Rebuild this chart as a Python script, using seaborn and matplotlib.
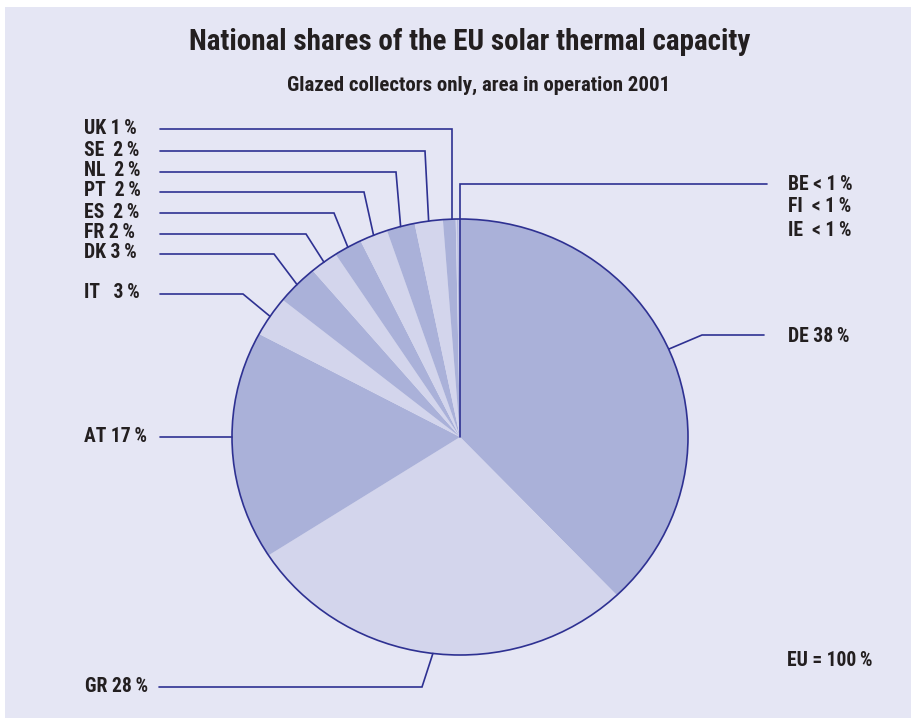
import matplotlib
matplotlib.use("Agg")
import matplotlib.pyplot as plt
import seaborn as sns
import numpy as np
from matplotlib import font_manager
from matplotlib.patches import Rectangle, Ellipse

# ---------------- data ----------------
countries = ["DE", "GR", "AT", "IT", "DK", "FR", "ES", "PT", "NL", "SE", "UK", "BE", "FI", "IE"]
shares = [38, 28, 17, 3, 3, 2, 2, 2, 2, 2, 0.9, 0.1, 0.1, 0.1]
label_texts = ["DE 38\u2009%", "GR 28\u2009%", "AT 17\u2009%", "IT   3\u2009%", "DK 3\u2009%",
               "FR 2\u2009%", "ES  2\u2009%", "PT  2\u2009%", "NL  2\u2009%", "SE  2\u2009%",
               "UK 1\u2009%", "BE < 1\u2009%", "FI  < 1\u2009%", "IE  < 1\u2009%"]
title = "National shares of the EU solar thermal capacity"
subtitle = "Glazed collectors only, area in operation 2001"
total_text = "EU = 100\u2009%"

# ---------------- style ----------------
sns.set_theme(style="white")
names = {f.name for f in font_manager.fontManager.ttflist}
fam = "DejaVu Sans"
for cand in ["Roboto Condensed", "Archivo Narrow", "PT Sans Narrow", "Liberation Sans Narrow",
             "Pragati Narrow", "Open Sans Condensed"]:
    if cand in names:
        fam = cand
        break
plt.rcParams["font.family"] = [fam, "DejaVu Sans"]

BG = "#e5e6f4"
DARK = "#aab1d9"
LIGHT = "#d3d5ec"
NAVY = "#2e3192"
TXT = "#231f20"

W, H = 912, 718
fig = plt.figure(figsize=(W / 100, H / 100), dpi=100)
fig.patch.set_facecolor("white")
renderer = fig.canvas.get_renderer()

bgax = fig.add_axes([0, 0, 1, 1], zorder=0)
bgax.set_xlim(0, W); bgax.set_ylim(H, 0); bgax.axis("off")
bgax.add_patch(Rectangle((5, 7), W - 5, H - 7, facecolor=BG, edgecolor="none"))

# pie axes (slightly elliptical like the original)
cx, cy, rx, ry = 460, 437, 228, 218
pax = fig.add_axes([(cx - rx) / W, (H - cy - ry) / H, 2 * rx / W, 2 * ry / H], zorder=1)
pax.patch.set_alpha(0)
colors = [DARK if i % 2 == 0 else LIGHT for i in range(len(shares))]
wedges, _ = pax.pie(shares, colors=colors, startangle=90, counterclock=False,
                    wedgeprops=dict(linewidth=0, edgecolor="none", clip_on=False))
pax.set_aspect("auto")
pax.set_xlim(-1, 1)
pax.set_ylim(-1, 1)
pax.add_patch(Ellipse((0, 0), 2, 2, facecolor="none", edgecolor=NAVY, lw=1.2,
                      zorder=5, clip_on=False))
pax.axis("off")

ov = fig.add_axes([0, 0, 1, 1], zorder=2)
ov.set_xlim(0, W); ov.set_ylim(H, 0); ov.axis("off")
ov.patch.set_alpha(0)


def fit(txt_obj, target_px):
    bb = txt_obj.get_window_extent(renderer)
    txt_obj.set_fontsize(txt_obj.get_fontsize() * target_px / bb.width)


def edge_pt(w):
    t = np.deg2rad((w.theta1 + w.theta2) / 2)
    return cx + rx * np.cos(t), cy - ry * np.sin(t)

# label size fitted on "EU = 100 %" (87 px wide in the reference)
probe = ov.text(0, 0, total_text, fontsize=12, fontweight="bold")
fit(probe, 86)
fs = probe.get_fontsize()
probe.remove()

# leader layout: (label-left x, label y, line start x, elbow x, elbow y)
layout = {
    "UK": (84, 128, 160, 452, 129),
    "SE": (84, 150, 160, 425, 151),
    "NL": (84, 171, 160, 396, 172),
    "PT": (84, 191, 160, 364, 192),
    "ES": (84, 212, 160, 334, 213),
    "FR": (84, 233, 160, 306, 234),
    "DK": (84, 253, 160, 274, 254),
    "IT": (84, 293, 160, 243, 294),
    "AT": (84, 437, 160, 160, 437),
    "GR": (85, 687, 159, 422, 687),
}
lw = 1.2
for i, c in enumerate(countries):
    if c in layout:
        tx, ty, lx, ex, ey = layout[c]
        px, py = edge_pt(wedges[i])
        if c == "UK":
            px = ex
        if c == "AT":
            px, py = cx - rx, ey
        ov.plot([lx, ex, px], [ey, ey, py], color=NAVY, lw=lw, solid_joinstyle="miter")
        ov.text(tx, ty, label_texts[i], fontsize=fs, fontweight="bold", color=TXT,
                ha="left", va="center")

# DE leader
i = countries.index("DE")
ov.plot([669, 702, 764], [349, 335, 335], color=NAVY, lw=lw)
ov.text(788, 337, label_texts[i], fontsize=fs, fontweight="bold", color=TXT, ha="left", va="center")

# BE / FI / IE leader from centre
ov.plot([cx, cx, 767], [cy, 184, 184], color=NAVY, lw=lw, solid_joinstyle="miter")
for c, y in zip(["BE", "FI", "IE"], [185, 207, 230]):
    ov.text(788, y, label_texts[countries.index(c)], fontsize=fs, fontweight="bold",
            color=TXT, ha="left", va="center")

ov.text(787, 660, total_text, fontsize=fs, fontweight="bold", color=TXT, ha="left", va="center")

t1 = ov.text(470, 42, title, fontsize=20, fontweight="bold", color=TXT, ha="center", va="center")
fit(t1, 560)
t2 = ov.text(479, 85, subtitle, fontsize=12, fontweight="bold", color=TXT, ha="center", va="center")
fit(t2, 385)

fig.savefig("out.png", dpi=100, facecolor="white")
